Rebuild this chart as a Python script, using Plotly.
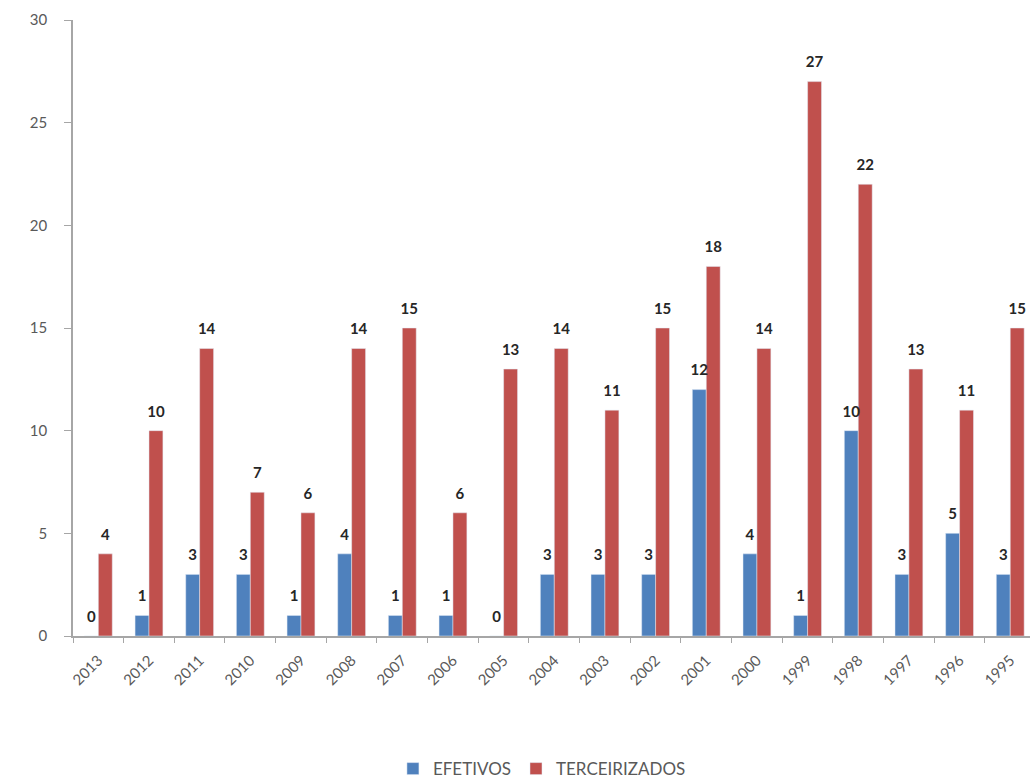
import plotly.graph_objects as go

years = ["2013", "2012", "2011", "2010", "2009", "2008", "2007", "2006", "2005", "2004",
         "2003", "2002", "2001", "2000", "1999", "1998", "1997", "1996", "1995"]
efetivos = [0, 1, 3, 3, 1, 4, 1, 1, 0, 3, 3, 3, 12, 4, 1, 10, 3, 5, 3]
terceirizados = [4, 10, 14, 7, 6, 14, 15, 6, 13, 14, 11, 15, 18, 14, 27, 22, 13, 11, 15]

label_font = dict(family="Lato, Open Sans, sans-serif", size=15, color="#262626", weight="bold")

fig = go.Figure()
for name, vals, color in [("EFETIVOS", efetivos, "#4F81BD"),
                          ("TERCEIRIZADOS", terceirizados, "#C0504D")]:
    fig.add_trace(go.Bar(
        x=years, y=vals, name=name, marker_color=color, hoverinfo="x+y",
    ))
for name, vals in [("EFETIVOS", efetivos), ("TERCEIRIZADOS", terceirizados)]:
    fig.add_trace(go.Scatter(
        x=years, y=vals, mode="markers+text", showlegend=False, hoverinfo="skip",
        marker=dict(size=15, opacity=0), text=[str(v) for v in vals],
        textposition="top center", textfont=label_font, cliponaxis=False,
    ))

fig.update_layout(
    width=1030, height=780,
    margin=dict(l=73, r=0, t=20, b=144, autoexpand=False),
    paper_bgcolor="white", plot_bgcolor="white",
    barmode="group", bargap=0.45, bargroupgap=0,
    scattermode="group", scattergap=0.45,
    font=dict(family="Lato, Open Sans, sans-serif", size=13, color="#595959"),
    showlegend=True,
    legend=dict(orientation="h", x=0.49, xanchor="center", y=-0.216, yanchor="middle",
                font=dict(size=17, color="#595959"), traceorder="normal", itemwidth=30),
)
fig.update_xaxes(
    type="category", range=[-0.5, 18.39], automargin=False,
    showline=True, linecolor="#A6A6A6", linewidth=1.5,
    ticks="outside", ticklen=5, tickcolor="#A6A6A6", tickson="boundaries",
    tickangle=-45, tickfont=dict(size=15, color="#595959"), ticklabelstandoff=8,
    showgrid=False, zeroline=False,
)
fig.update_yaxes(
    range=[0, 30], dtick=5, tick0=0, automargin=False,
    showline=True, linecolor="#A6A6A6", linewidth=1.5,
    ticks="outside", ticklen=7, tickcolor="#A6A6A6",
    tickfont=dict(size=15, color="#595959"), ticklabelstandoff=14,
    showgrid=False, zeroline=False,
)

fig.write_html("out.html")
